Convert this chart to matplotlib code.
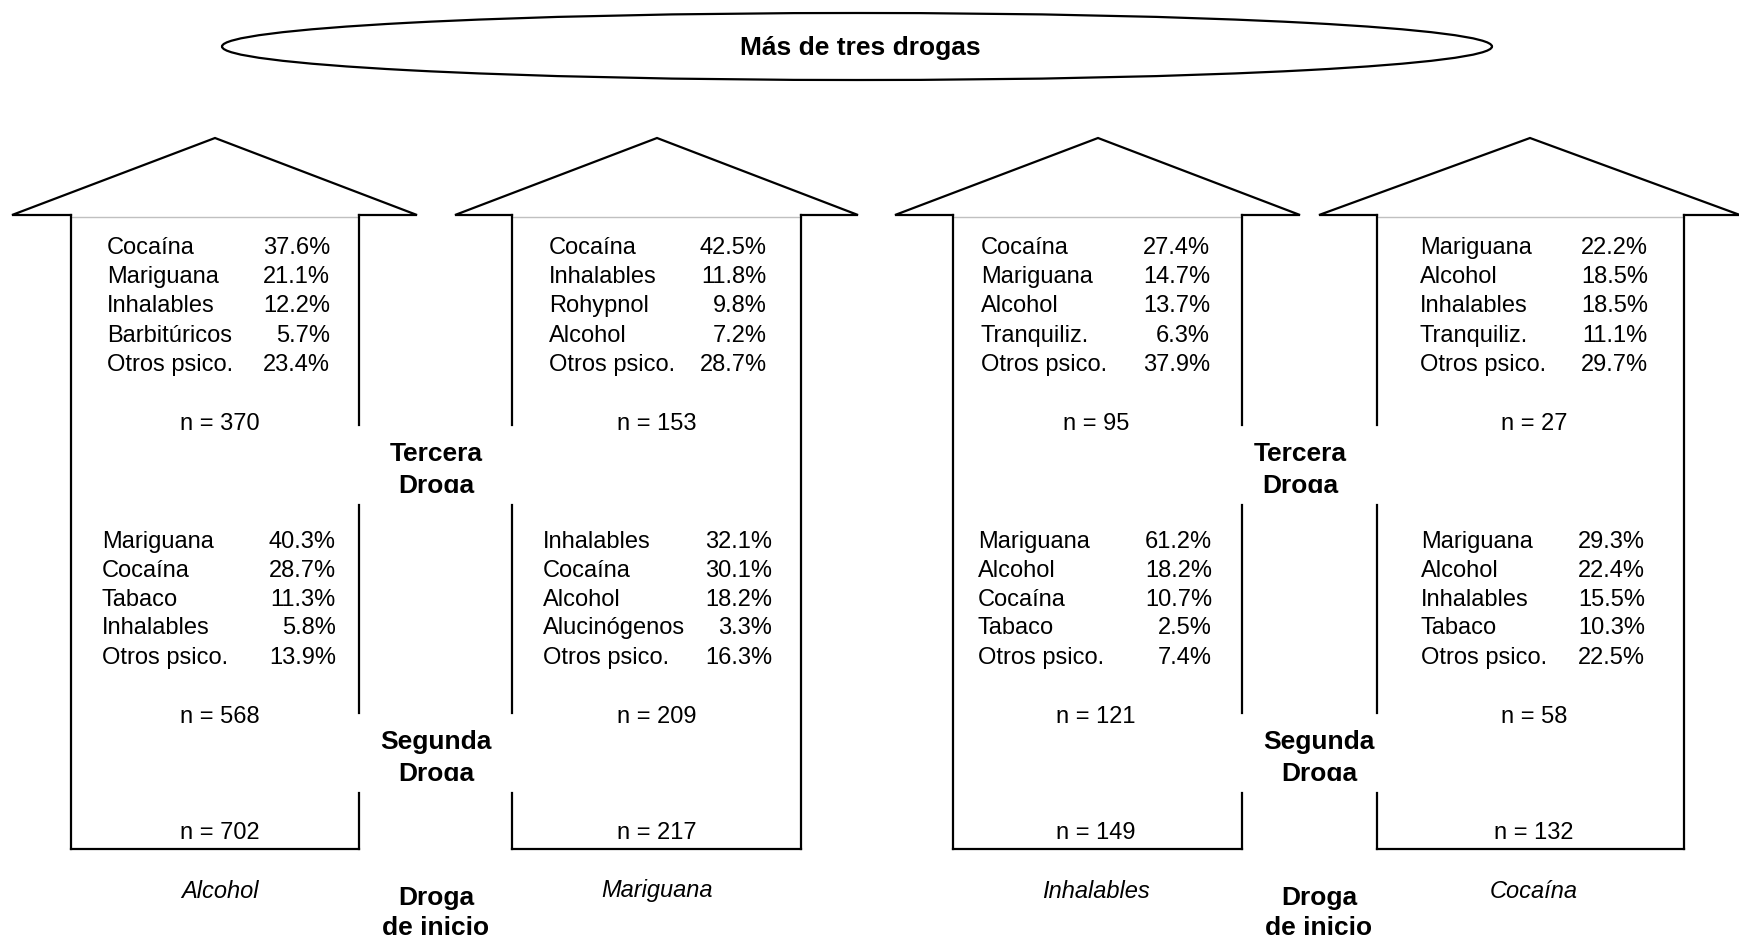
import matplotlib
matplotlib.use("Agg")
from matplotlib import pyplot as plt
from matplotlib.patches import Ellipse, Rectangle

plt.rcParams['font.family'] = ['Liberation Sans', 'DejaVu Sans']

# datos
drogas_inicio = ["Alcohol", "Mariguana", "Inhalables", "Cocaína"]
n_inicio = [702, 217, 149, 132]

segunda_nombres = [
    ["Mariguana", "Cocaína", "Tabaco", "Inhalables", "Otros psico."],
    ["Inhalables", "Cocaína", "Alcohol", "Alucinógenos", "Otros psico."],
    ["Mariguana", "Alcohol", "Cocaína", "Tabaco", "Otros psico."],
    ["Mariguana", "Alcohol", "Inhalables", "Tabaco", "Otros psico."],
]
segunda_pct = [
    [40.3, 28.7, 11.3, 5.8, 13.9],
    [32.1, 30.1, 18.2, 3.3, 16.3],
    [61.2, 18.2, 10.7, 2.5, 7.4],
    [29.3, 22.4, 15.5, 10.3, 22.5],
]
n_segunda = [568, 209, 121, 58]

tercera_nombres = [
    ["Cocaína", "Mariguana", "Inhalables", "Barbitúricos", "Otros psico."],
    ["Cocaína", "Inhalables", "Rohypnol", "Alcohol", "Otros psico."],
    ["Cocaína", "Mariguana", "Alcohol", "Tranquiliz.", "Otros psico."],
    ["Mariguana", "Alcohol", "Inhalables", "Tranquiliz.", "Otros psico."],
]
tercera_pct = [
    [37.6, 21.1, 12.2, 5.7, 23.4],
    [42.5, 11.8, 9.8, 7.2, 28.7],
    [27.4, 14.7, 13.7, 6.3, 37.9],
    [22.2, 18.5, 18.5, 11.1, 29.7],
]
n_tercera = [370, 153, 95, 27]

# geometria de las flechas (pixeles): punta izq, vertice, punta der, cuerpo izq, cuerpo der
flechas = [
    (12, 215, 417, 71, 359),
    (455, 657, 858, 512, 801),
    (895, 1098, 1300, 953, 1242),
    (1319, 1530, 1740, 1377, 1684),
]
x_centro = [220, 657, 1096, 1534]
y_vertice, y_base, y_fondo = 138, 215, 849
huecos = [(425, 505), (713, 793)]
lado_hueco = ["der", "izq", "der", "izq"]

# posiciones de textos: x nombres, x valores (sup, inf)
x_txt_sup = [(107, 330), (549, 767), (981, 1210), (1420, 1648)]
x_txt_inf = [(102, 336), (543, 772), (978, 1212), (1421, 1645)]
y_filas_sup = [248, 277, 306, 336, 365]
y_filas_inf = [542, 571, 600, 628, 658]

fig = plt.figure(figsize=(17.4, 9.43), dpi=100)
ax = fig.add_axes([0, 0, 1, 1])
ax.set_xlim(0, 1740)
ax.set_ylim(943, 0)
ax.axis('off')

lw = 1.6
fs = 17
fsb = 19

# elipse del titulo
ax.add_patch(Ellipse((857, 46.5), 1270, 67, fill=False, edgecolor='black', lw=lw))
ax.text(860, 48, "Más de tres drogas", ha='center', va='center', fontsize=fsb, fontweight='bold')

for i, (pi, pv, pd, ci, cd) in enumerate(flechas):
    # cabeza
    ax.plot([ci, pi, pv, pd, cd], [y_base, y_base, y_vertice, y_base, y_base], color='black', lw=lw,
            solid_joinstyle='miter')
    ax.plot([ci, cd], [y_base + 1.5, y_base + 1.5], color='#c0c0c0', lw=1)
    # cuerpo
    ax.plot([ci, cd], [y_fondo, y_fondo], color='black', lw=lw)
    lados = {"izq": ci, "der": cd}
    for lado, x in lados.items():
        if lado == lado_hueco[i]:
            tramos = [(y_base, huecos[0][0]), (huecos[0][1], huecos[1][0]), (huecos[1][1], y_fondo)]
        else:
            tramos = [(y_base, y_fondo)]
        for y0, y1 in tramos:
            ax.plot([x, x], [y0, y1], color='black', lw=lw)

    xc = x_centro[i]
    # tercera droga
    xn, xv = x_txt_sup[i]
    for nom, val, y in zip(tercera_nombres[i], tercera_pct[i], y_filas_sup):
        ax.text(xn, y, nom, ha='left', va='center', fontsize=fs)
        ax.text(xv, y, f"{val:.1f}%", ha='right', va='center', fontsize=fs)
    ax.text(xc, 424, f"n = {n_tercera[i]}", ha='center', va='center', fontsize=fs)
    # segunda droga
    xn, xv = x_txt_inf[i]
    for nom, val, y in zip(segunda_nombres[i], segunda_pct[i], y_filas_inf):
        ax.text(xn, y, nom, ha='left', va='center', fontsize=fs)
        ax.text(xv, y, f"{val:.1f}%", ha='right', va='center', fontsize=fs)
    ax.text(xc, 717, f"n = {n_segunda[i]}", ha='center', va='center', fontsize=fs)
    ax.text(xc, 833, f"n = {n_inicio[i]}", ha='center', va='center', fontsize=fs)
    ax.text(xc, 891, drogas_inicio[i], ha='center', va='center', fontsize=fs, style='italic')

# etiquetas centrales (la segunda linea queda recortada como en el original)
for xs, xt in [(436, 436), (1319, 1300)]:
    ax.text(xt, 461, "Tercera", ha='center', va='baseline', fontsize=fsb, fontweight='bold')
    t = ax.text(xt, 493, "Droga", ha='center', va='baseline', fontsize=fsb, fontweight='bold',
                clip_on=True)
    t.set_clip_path(Rectangle((xt - 80, 465), 160, 27.5, transform=ax.transData))
    ax.text(xs, 749.5, "Segunda", ha='center', va='baseline', fontsize=fsb, fontweight='bold')
    t = ax.text(xs, 781.5, "Droga", ha='center', va='baseline', fontsize=fsb, fontweight='bold',
                clip_on=True)
    t.set_clip_path(Rectangle((xs - 80, 755), 160, 25.5, transform=ax.transData))
    ax.text(xs, 898, "Droga", ha='center', va='center', fontsize=fsb, fontweight='bold')
    ax.text(xs, 928, "de inicio", ha='center', va='center', fontsize=fsb, fontweight='bold')

plt.savefig("out.png", dpi=100)
